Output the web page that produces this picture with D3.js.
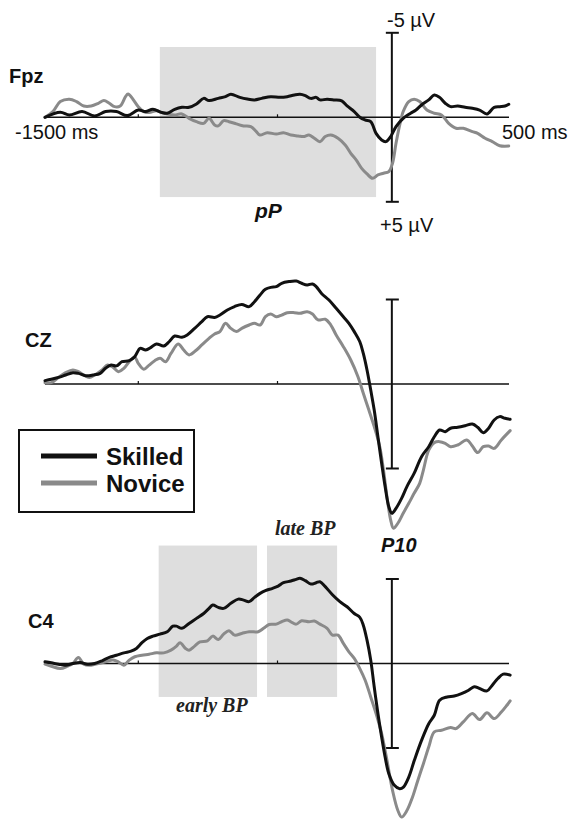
<!DOCTYPE html>
<html><head><meta charset="utf-8">
<script src="https://cdn.jsdelivr.net/npm/d3@7"></script>
<style>body{margin:0;background:#fff}svg{display:block}</style>
</head><body><div id="chart"></div>
<script>
// ---- data (time in ms, amplitude in µV; negative plotted upward) ----
const channels = ["Fpz", "CZ", "C4"];
const groups = ["Skilled", "Novice"];
const xTickValues = [-1100, -500];
const xEndLabels = ["-1500 ms", "500 ms"];
const barLabels = ["-5 \u00b5V", "+5 \u00b5V"];

const fpzSkilledT = [-1500,-1434,-1395,-1340,-1286,-1239,-1192,-1145,-1098,-1066,-1035,-996,-973,-941,-910,-879,-847,-816,-793,-753,-722,-699,-660,-628,-597,-566,-527,-487,-456,-425,-401,-378,-354,-331,-315,-284,-253,-221,-198,-167,-143,-120,-96,-73,-49,-31,-10,13,44,76,99,123,154,178,201,225,248,279,311,342,373,405,436,460,483,499];
const fpzSkilledV = [0,-0.30,-0.14,-0.34,-0.08,-0.34,-0.34,-0.10,-0.43,-0.34,-0.47,-0.28,-0.24,-0.47,-0.59,-0.59,-0.79,-1.12,-0.99,-1.12,-1.22,-1.36,-1.18,-1.08,-1.03,-1.12,-1.22,-1.18,-1.22,-1.32,-1.36,-1.28,-1.12,-1.18,-1.03,-1.07,-1.03,-0.97,-0.67,-0.34,0,0.16,0.26,0.95,1.34,1.44,1.14,0.55,0.06,-0.24,-0.43,-0.73,-1.03,-1.32,-1.18,-0.83,-0.63,-0.67,-0.59,-0.53,-0.43,-0.20,-0.59,-0.63,-0.67,-0.77];
const fpzNoviceT = [-1500,-1466,-1434,-1395,-1364,-1333,-1301,-1270,-1246,-1223,-1200,-1176,-1153,-1142,-1121,-1098,-1074,-1051,-1020,-996,-973,-941,-910,-879,-847,-816,-793,-769,-753,-730,-707,-675,-644,-613,-589,-574,-542,-503,-472,-440,-409,-386,-362,-339,-315,-292,-268,-237,-206,-182,-159,-135,-112,-88,-65,-41,-18,-2,13,29,44,68,91,115,146,178,209,240,272,303,342,365,397,428,460,499];
const fpzNoviceV = [0,-0.34,-0.93,-1.07,-0.93,-0.67,-0.67,-0.83,-0.99,-0.83,-0.63,-0.67,-1.22,-1.38,-1.07,-0.63,-0.34,-0.28,-0.39,-0.28,-0.20,-0.14,-0.20,0.06,0.26,0.36,0.06,0.45,0.51,0.20,0.26,0.39,0.51,0.55,0.85,1.05,0.91,0.99,0.91,1.05,1.10,1.14,1.05,1.24,1.44,1.14,1.05,1.24,1.64,2.13,2.52,3.02,3.35,3.61,3.41,3.31,3.21,2.72,1.54,0.45,-0.34,-0.93,-1.07,-0.93,-0.43,-0.24,-0.14,0.36,0.65,0.65,0.85,0.95,1.24,1.44,1.68,1.70];

const czSkilledT = [-1500,-1473,-1442,-1411,-1380,-1356,-1325,-1293,-1262,-1239,-1215,-1192,-1168,-1137,-1113,-1090,-1066,-1043,-1020,-988,-965,-941,-910,-887,-855,-824,-800,-769,-746,-714,-683,-652,-620,-597,-573,-550,-527,-503,-480,-448,-417,-394,-370,-347,-331,-308,-276,-245,-214,-190,-167,-143,-128,-112,-96,-81,-65,-49,-34,-18,-5,13,37,60,91,123,154,178,201,225,248,279,311,342,365,389,412,436,460,483,505];
const czSkilledV = [-0.20,-0.28,-0.39,-0.53,-0.67,-0.63,-0.49,-0.53,-0.63,-0.93,-1.12,-1.07,-1.32,-1.38,-1.62,-2.11,-2.01,-2.17,-2.37,-2.25,-2.50,-2.84,-2.76,-2.90,-3.29,-3.69,-3.98,-3.94,-4.08,-4.38,-4.58,-4.71,-4.58,-4.87,-5.27,-5.60,-5.72,-5.76,-5.96,-6.06,-6.09,-5.96,-5.86,-5.92,-5.76,-5.36,-4.97,-4.48,-3.98,-3.59,-3.10,-2.50,-1.81,-0.83,0.36,1.54,3.12,4.69,6.07,7.26,7.65,7.36,6.77,6.07,5.29,4.30,3.71,3.12,2.72,2.82,2.62,2.56,2.47,2.37,2.56,2.88,2.62,2.13,1.93,2.03,2.09];
const czNoviceT = [-1500,-1473,-1442,-1411,-1380,-1356,-1333,-1309,-1286,-1254,-1231,-1207,-1184,-1160,-1137,-1113,-1098,-1074,-1051,-1027,-1004,-980,-957,-926,-902,-879,-847,-824,-793,-769,-746,-722,-699,-675,-652,-620,-597,-573,-550,-527,-503,-480,-456,-425,-401,-370,-347,-323,-292,-268,-245,-214,-182,-151,-128,-104,-81,-57,-41,-26,-10,2,21,44,68,91,115,131,154,178,201,225,248,279,318,342,365,389,412,436,467,505];
const czNoviceV = [-0.08,-0.08,-0.39,-0.67,-0.83,-0.73,-0.53,-0.39,-0.53,-0.83,-1.12,-0.99,-0.73,-0.93,-1.32,-1.58,-1.22,-0.87,-1.12,-1.38,-1.52,-1.32,-1.81,-2.37,-2.01,-1.72,-2.01,-2.31,-2.70,-2.96,-3.10,-3.59,-3.29,-3.10,-3.29,-3.49,-3.59,-3.49,-3.98,-4.14,-3.98,-4.08,-4.22,-4.22,-4.18,-4.28,-4.14,-3.79,-3.83,-3.49,-2.90,-2.21,-1.42,-0.43,0.55,1.54,2.52,3.71,5.09,6.67,8.05,8.54,8.24,7.65,7.06,6.47,5.88,5.09,3.91,3.47,3.41,3.51,3.71,3.61,3.31,3.67,4.06,3.71,3.67,3.81,3.31,2.76];

const c4SkilledT = [-1500,-1473,-1442,-1411,-1380,-1348,-1317,-1286,-1254,-1223,-1192,-1160,-1129,-1106,-1082,-1059,-1035,-1004,-973,-949,-933,-910,-879,-847,-816,-793,-777,-753,-730,-699,-667,-644,-620,-597,-573,-550,-519,-495,-472,-440,-417,-401,-378,-354,-331,-315,-292,-260,-229,-198,-167,-143,-128,-112,-96,-81,-65,-49,-34,-18,6,29,45,68,92,123,154,178,201,233,264,295,326,350,373,405,428,452,475,505];
const c4SkilledV = [-0.10,-0.04,0.04,0.10,0,-0.06,0.04,0,-0.16,-0.36,-0.49,-0.63,-0.73,-0.89,-1.23,-1.48,-1.62,-1.74,-1.88,-2.21,-2.21,-2.08,-2.37,-2.67,-2.96,-3.26,-3.46,-3.32,-3.26,-3.56,-3.81,-3.75,-3.66,-3.91,-4.15,-4.31,-4.45,-4.58,-4.78,-4.88,-4.98,-5.04,-4.90,-4.70,-4.78,-4.84,-4.55,-4.05,-3.66,-3.36,-2.96,-2.73,-2.27,-1.38,-0.20,1.38,2.96,4.35,5.53,6.52,7.21,7.41,7.31,6.72,5.73,4.55,3.56,3.06,2.17,1.98,1.92,1.78,1.58,1.38,1.48,1.62,1.28,0.89,0.63,0.69];
const c4NoviceT = [-1500,-1473,-1434,-1403,-1380,-1356,-1333,-1301,-1270,-1239,-1207,-1184,-1160,-1137,-1113,-1082,-1051,-1020,-988,-957,-933,-918,-894,-879,-855,-832,-800,-777,-753,-730,-707,-683,-652,-620,-581,-558,-534,-503,-480,-456,-440,-417,-394,-362,-339,-315,-284,-261,-237,-214,-190,-167,-143,-120,-96,-73,-49,-26,-2,21,37,60,84,107,131,154,178,209,248,272,303,342,373,405,436,467,491,505];
const c4NoviceV = [0.04,0.16,0.30,0.16,0,-0.36,0.04,0.10,0,-0.10,-0.20,-0.10,0.10,-0.20,-0.40,-0.49,-0.55,-0.63,-0.63,-0.79,-1.03,-1.23,-0.89,-0.79,-1.03,-1.28,-1.34,-1.62,-1.42,-1.74,-1.94,-1.68,-1.78,-1.88,-1.88,-2.08,-2.31,-2.33,-2.47,-2.57,-2.47,-2.33,-2.53,-2.47,-2.51,-2.33,-2.08,-1.68,-1.68,-1.19,-0.69,-0.30,0.30,0.99,1.98,2.96,4.15,5.73,7.51,8.70,9.09,8.70,7.91,6.92,5.93,4.94,4.05,3.95,3.79,3.85,3.46,2.96,3.32,2.92,3.26,2.87,2.47,2.21];

const windowNames = ["pP", "early BP", "late BP"];
const windowStart = [-1005, -1010, -543];
const windowEnd = [-73, -586, -241];
const peakLabel = "P10";

// ---- layout ----
const W = 569, H = 822;
const svg = d3.select("#chart").append("svg").attr("width", W).attr("height", H);
svg.append("rect").attr("width", W).attr("height", H).attr("fill", "#fff");

const x = d3.scaleLinear().domain([-1500, 500]).range([45, 509]);
const zeroY = [117.3, 384, 663.5];
const pxPerUV = 16.9;
const yScales = zeroY.map(z => d3.scaleLinear().domain([-5, 5]).range([z - 5 * pxPerUV, z + 5 * pxPerUV]));

const series = [
  [[fpzSkilledT, fpzSkilledV], [fpzNoviceT, fpzNoviceV]],
  [[czSkilledT, czSkilledV], [czNoviceT, czNoviceV]],
  [[c4SkilledT, c4SkilledV], [c4NoviceT, c4NoviceV]]
];
const colors = {Skilled: "#111111", Novice: "#8a8a8a"};
const shade = "#dedede";
const sans = "'Liberation Sans', Arial, sans-serif";
const serif = "'Liberation Serif', 'Times New Roman', serif";

// shaded windows: [panel, windowIndex, top µV, bottom µV]
const windowPlacement = [[0, 0, -4.16, 4.72], [2, 1, -6.98, 1.98], [2, 2, -6.98, 1.98]];
windowPlacement.forEach(([p, w, top, bot]) => {
  const y = yScales[p];
  svg.append("rect")
    .attr("x", x(windowStart[w])).attr("width", x(windowEnd[w]) - x(windowStart[w]))
    .attr("y", y(top)).attr("height", y(bot) - y(top))
    .attr("fill", shade);
});

const line = d3.line().curve(d3.curveCatmullRom.alpha(0.5));

channels.forEach((ch, p) => {
  const y = yScales[p];
  const g = svg.append("g");
  const ax = g.append("g").attr("transform", `translate(0,${y(0)})`)
    .call(d3.axisTop(x).tickValues(xTickValues).tickSize(3).tickFormat(""));
  ax.select(".domain").attr("d", `M${x(-1500)},0H${x(500)}`).attr("stroke", "#111").attr("stroke-width", 1.4);
  ax.selectAll(".tick line").attr("stroke", "#111").attr("stroke-width", 1.2);
  const bx = x(-5);
  const bar = g.append("g").attr("stroke", "#111").attr("stroke-width", 2);
  bar.append("line").attr("x1", bx).attr("x2", bx).attr("y1", y(-5)).attr("y2", y(5));
  bar.append("line").attr("x1", bx - 6).attr("x2", bx + 7).attr("y1", y(-5)).attr("y2", y(-5));
  bar.append("line").attr("x1", bx - 6).attr("x2", bx + 7).attr("y1", y(5)).attr("y2", y(5));
  [1, 0].forEach(gi => {
    const [T, V] = series[p][gi];
    const pts = T.map((t, i) => [x(t), y(V[i])]);
    g.append("path").attr("d", line(pts)).attr("fill", "none")
      .attr("stroke", colors[groups[gi]]).attr("stroke-width", 3)
      .attr("stroke-linejoin", "round").attr("stroke-linecap", "round");
  });
});

// channel labels
const chLabelPos = [[9, 83], [25, 347], [28, 628]];
channels.forEach((ch, i) => {
  svg.append("text").attr("x", chLabelPos[i][0]).attr("y", chLabelPos[i][1])
    .attr("font-family", sans).attr("font-weight", "bold").attr("font-size", 20)
    .attr("fill", "#111").text(ch);
});

// axis end labels (top panel)
const txt = (s, xx, yy, opts = {}) => svg.append("text").attr("x", xx).attr("y", yy)
  .attr("font-family", opts.family || sans).attr("font-size", opts.size || 20)
  .attr("font-weight", opts.weight || "normal").attr("font-style", opts.style || "normal")
  .attr("fill", opts.fill || "#111").text(s);
txt(xEndLabels[0], 15, 139);
txt(xEndLabels[1], 502, 139);
txt(barLabels[0], 387, 27);
txt(barLabels[1], 380, 232);

// window labels
txt(windowNames[0], 255, 218, {weight: "bold", style: "italic", size: 21});
txt(windowNames[1], 176, 712, {family: serif, weight: "bold", style: "italic", size: 20, fill: "#222"});
txt(windowNames[2], 275, 535, {family: serif, weight: "bold", style: "italic", size: 20, fill: "#222"});
txt(peakLabel, 381, 552, {weight: "bold", style: "italic", size: 20});

// legend
const lg = svg.append("g");
lg.append("rect").attr("x", 19).attr("y", 430).attr("width", 175).attr("height", 82)
  .attr("fill", "#fff").attr("stroke", "#111").attr("stroke-width", 2);
groups.forEach((gname, i) => {
  const ly = 456 + i * 27;
  lg.append("line").attr("x1", 41).attr("x2", 97).attr("y1", ly).attr("y2", ly)
    .attr("stroke", colors[gname]).attr("stroke-width", 5);
  lg.append("text").attr("x", 106).attr("y", ly + 9).attr("font-family", sans)
    .attr("font-weight", "bold").attr("font-size", 24).attr("fill", "#111").text(gname);
});
</script></body></html>
